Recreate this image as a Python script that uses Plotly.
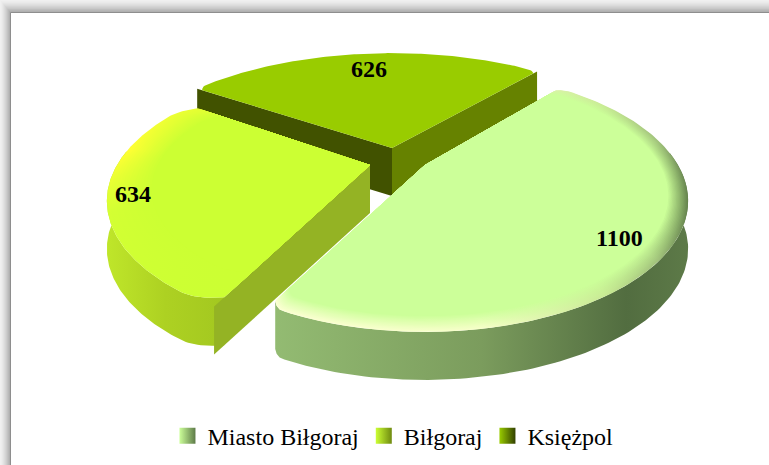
import math
import plotly.graph_objects as go

categories = ["Miasto Biłgoraj", "Biłgoraj", "Księżpol"]
values = [1100, 634, 626]

W, H = 769, 465
START = -50.0
R, RS, K = 253.0, 121.0, 0.275
DEPTH = 48

total = sum(values)
angles = [START]
for v in values:
    angles.append(angles[-1] + v / total * 360)


def project(cx, cy, sx, deg, r=1.0):
    u, v = r * math.cos(math.radians(deg)), r * math.sin(math.radians(deg))
    w = 1 - K * v
    return cx + sx * R * u / w, cy + RS * v / w


def arc(cx, cy, sx, a0, a1, r=1.0, corner=(5.0, 0.05), n=160):
    pts = []
    for i in range(n + 1):
        a = a0 + (a1 - a0) * i / n
        d = min(a - a0, a1 - a)
        f = 1 - corner[1] * max(0, 1 - d / corner[0]) ** 2
        pts.append(project(cx, cy, sx, a, r * f))
    return pts


def mix(c1, c2, t):
    a = [int(c1[i:i + 2], 16) for i in (1, 3, 5)]
    b = [int(c2[i:i + 2], 16) for i in (1, 3, 5)]
    return "#%02x%02x%02x" % tuple(round(p + (q - p) * t) for p, q in zip(a, b))


fig = go.Figure()


def poly(pts, color=None, grad=None, gtype="horizontal"):
    kw = dict(fillcolor=color) if grad is None else dict(
        fillgradient=dict(type=gtype, colorscale=grad))
    fig.add_trace(go.Scatter(
        x=[p[0] for p in pts] + [pts[0][0]], y=[p[1] for p in pts] + [pts[0][1]],
        mode="lines", fill="toself", line=dict(width=0), hoverinfo="skip",
        showlegend=False, **kw))


def scale_stops(stops, base, t):
    return [[p, mix(c, base, t)] for p, c in stops]


slices = {
    "Księżpol": dict(
        idx=2, c=(392, 148), sx=1.08, base="#99cc00", corner=(3.0, 0.03),
        wall=[[0, "#668200"], [1, "#668200"]],
        rim=[[0, "#99cc00"], [1, "#99cc00"]], rtype="horizontal",
        cuts=[(0, "#415200"), (1, "#668200")], rw=0.0),
    "Biłgoraj": dict(
        idx=1, c=(370, 165), sx=1.0, base="#ccff33", corner=(8.0, 0.05),
        wall=[[0, "#bfe62a"], [0.5, "#add122"], [1, "#a3c820"]],
        rim=[[0, "#ccff33"], [0.45, "#d4ff33"], [0.78, "#ffff33"], [1, "#e8ff33"]], rtype="vertical",
        cuts=[(0, "#94b324")], rw=0.16),
    "Miasto Biłgoraj": dict(
        idx=0, c=(425, 165), sx=1.0, base="#ccff99", corner=(3.0, 0.03),
        wall=[[0, "#93bb72"], [0.5, "#7b9c5d"], [0.85, "#526d40"], [1, "#5d7a48"]],
        rim=[[0, "#fbffd2"], [0.5, "#f6ffc8"], [0.8, "#c8ea94"], [0.93, "#9fc07a"], [1, "#66854e"]],
        rtype="horizontal", cuts=[], rw=0.07),
}

for name in ["Księżpol", "Biłgoraj", "Miasto Biłgoraj"]:
    s = slices[name]
    a0, a1 = angles[s["idx"]], angles[s["idx"] + 1]
    cx, cy = s["c"]
    # outer wall
    top = arc(cx, cy, s["sx"], a0, a1, corner=s["corner"])
    visible = [p for p, i in zip(top, range(len(top)))
               if math.sin(math.radians(a0 + (a1 - a0) * i / (len(top) - 1))) > -0.12]
    if visible:
        poly(visible + [(x, y + DEPTH) for x, y in reversed(visible)], grad=s["wall"])
    # cut faces
    for which, col in s["cuts"]:
        edge = project(cx, cy, s["sx"], a0 if which == 0 else a1)
        poly([(cx, cy), edge, (edge[0], edge[1] + DEPTH), (cx, cy + DEPTH)], color=col)
    # top surface with a bevelled rim
    layers = 16 if s["rw"] else 1
    for i in range(layers):
        t = i / max(layers - 1, 1)
        r = 1 - s["rw"] * t
        pts = [(cx, cy)] + arc(cx, cy, s["sx"], a0, a1, r=r, corner=s["corner"])
        if s["rw"] and i < layers - 1:
            poly(pts, grad=scale_stops(s["rim"], s["base"], t), gtype=s["rtype"])
        else:
            poly(pts, color=s["base"])

# legend entries
legend_grads = [("#ccff99", "#5d7a48"), ("#ccff33", "#6f8a10"), ("#99cc00", "#324000")]
for name, (c1, c2) in zip(categories, legend_grads):
    fig.add_trace(go.Scatter(
        x=[None], y=[None], mode="markers", name=name,
        marker=dict(symbol="square", size=16, color=c1, line=dict(width=0),
                    gradient=dict(type="horizontal", color=c2))))

# value labels
label_pos = [(619, 238), (133, 194), (369, 69)]
annotations = [dict(x=x, y=y, text=str(v), showarrow=False, xanchor="center", yanchor="middle",
                    font=dict(family="Liberation Serif", size=24, color="#000000", weight="bold"))
               for (x, y), v in zip(label_pos, values)]

# window frame with soft shadow (nested rectangles)
shapes = []
steps = 11
for i in range(steps):
    t = i / (steps - 1)
    shapes.append(dict(type="rect", xref="x", yref="y", layer="below",
                       x0=10 * t, x1=W + 5, y0=12 * t, y1=H + 5,
                       fillcolor=mix("#f0f0f0", "#a6a6a6", t ** 1.4), line=dict(width=0)))
shapes.append(dict(type="rect", xref="x", yref="y", layer="below",
                   x0=10.5, x1=W + 5, y0=12.5, y1=H + 5,
                   fillcolor="#ffffff", line=dict(color="#8e8e8e", width=1)))

fig.update_layout(
    width=W, height=H, autosize=False,
    margin=dict(l=0, r=0, t=0, b=0),
    paper_bgcolor="#ffffff", plot_bgcolor="#ffffff",
    xaxis=dict(range=[0, W], visible=False, fixedrange=True),
    yaxis=dict(range=[H, 0], visible=False, fixedrange=True),
    shapes=shapes, annotations=annotations,
    legend=dict(orientation="h", x=0.511, xanchor="center", y=0.062, yanchor="middle",
                font=dict(family="Liberation Serif", size=24, color="#000000"),
                bgcolor="rgba(0,0,0,0)", itemwidth=30),
    font=dict(family="Liberation Serif"),
)
fig.write_html("out.html", config={"displayModeBar": False},
               post_script="document.body.style.margin='0';document.documentElement.style.overflow='hidden';")
